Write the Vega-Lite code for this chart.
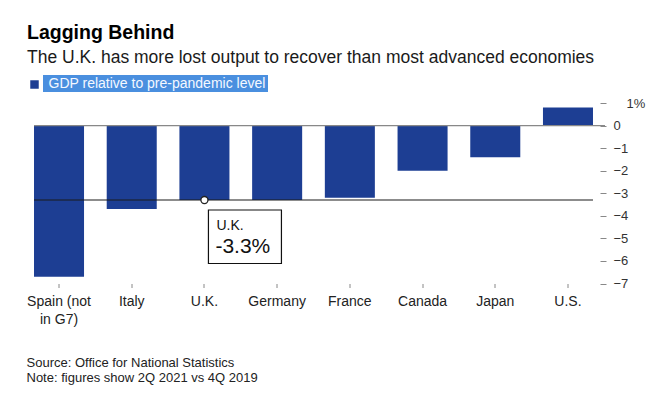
{
  "$schema": "https://vega.github.io/schema/vega-lite/v6.json",
  "width": 568,
  "height": 180.5,
  "autosize": {"type": "none"},
  "padding": {"left": 29.5, "top": 103, "right": 53.5, "bottom": 113.5},
  "background": "white",
  "config": {"view": {"stroke": null}, "font": "Liberation Sans", "axisY": {"labelOverlap": false}, "axisQuantitative": {"labelOverlap": false}},
  "title": {
    "text": "Lagging Behind",
    "subtitle": "The U.K. has more lost output to recover than most advanced economies",
    "anchor": "start",
    "frame": "group",
    "dx": -2.5,
    "offset": 8,
    "fontSize": 19.5,
    "fontWeight": "bold",
    "color": "#000000",
    "subtitleFontSize": 17.5,
    "subtitleColor": "#1a1a1a",
    "subtitlePadding": 5
  },
  "datasets": {
    "gdp": [
      {"country": "Spain (not in G7)", "value": -6.7},
      {"country": "Italy", "value": -3.7},
      {"country": "U.K.", "value": -3.3},
      {"country": "Germany", "value": -3.3},
      {"country": "France", "value": -3.2},
      {"country": "Canada", "value": -2.0},
      {"country": "Japan", "value": -1.4},
      {"country": "U.S.", "value": 0.8}
    ],
    "note": [
      {"country": "U.K.", "value": -3.3, "label": "-3.3%", "first": "Spain (not in G7)", "last": "U.S."}
    ],
    "zero": [
      {"value": 0, "first": "Spain (not in G7)", "last": "U.S."}
    ]
  },
  "encoding": {
    "x": {
      "field": "country",
      "type": "nominal",
      "sort": null,
      "scale": {
        "domain": ["Spain (not in G7)", "Italy", "U.K.", "Germany", "France", "Canada", "Japan", "U.S."],
        "paddingInner": 0.312,
        "paddingOuter": 0.062
      },
      "axis": {
        "labelAngle": 0,
        "domain": false,
        "tickSize": 4,
        "tickColor": "#888888",
        "labelFontSize": 14,
        "labelColor": "#222222",
        "labelPadding": 7,
        "labelLineHeight": 18,
        "labelExpr": "datum.value == 'Spain (not in G7)' ? ['Spain (not', 'in G7)'] : datum.label",
        "title": ["Source: Office for National Statistics", "Note: figures show 2Q 2021 vs 4Q 2019"],
        "titleX": -3.5,
        "titleY": 82.5,
        "titleAlign": "left",
        "titleAnchor": "start",
        "titleBaseline": "alphabetic",
        "titleFontSize": 13,
        "titleFontWeight": "normal",
        "titleColor": "#222222",
        "titleLineHeight": 15.5
      }
    },
    "y": {
      "field": "value",
      "type": "quantitative",
      "scale": {"domain": [-7, 1], "nice": false, "zero": false},
      "axis": {
        "orient": "right",
        "values": [1, 0, -1, -2, -3, -4, -5, -6, -7],
        "labelOverlap": false,
        "labelBound": false,
        "domain": false,
        "grid": false,
        "offset": 2.5,
        "tickSize": 6,
        "tickColor": "#888888",
        "labelFontSize": 13,
        "labelColor": "#333333",
        "labelPadding": {"condition": {"test": "datum.value == 1", "value": 20}, "value": 7},
        "labelExpr": "datum.value == 1 ? '1%' : datum.label",
        "title": null
      }
    }
  },
  "layer": [
    {
      "data": {"name": "gdp"},
      "mark": {"type": "bar"},
      "encoding": {
        "color": {
          "datum": "GDP",
          "type": "nominal",
          "scale": {"range": ["#1d3e93"]},
          "legend": {
            "orient": "none",
            "legendX": 0.5,
            "legendY": -23,
            "title": null,
            "padding": 0,
            "symbolType": "square",
            "symbolSize": 72,
            "symbolStrokeWidth": 0,
            "labelExpr": "''",
            "labelFontSize": 1
          }
        },
        "opacity": {
          "datum": "GDP relative to pre-pandemic level",
          "type": "nominal",
          "scale": {"range": [1]},
          "legend": {
            "orient": "none",
            "legendX": 13.5,
            "legendY": -28,
            "title": null,
            "padding": 1.5,
            "fillColor": "#4a8fdf",
            "symbolSize": 0,
            "symbolStrokeWidth": 0,
            "symbolOpacity": 0,
            "labelOffset": -10,
            "labelFontSize": 14,
            "labelColor": "#f4f8ff",
            "labelLimit": 400
          }
        }
      }
    },
    {
      "data": {"name": "zero"},
      "mark": {"type": "rule", "color": "#888888", "strokeWidth": 1.2, "x2Offset": 12},
      "encoding": {
        "x": {"field": "first", "type": "nominal", "bandPosition": 0},
        "x2": {"field": "last", "bandPosition": 1}
      }
    },
    {
      "data": {"name": "note"},
      "mark": {"type": "rule", "color": "#1a1a1a", "strokeWidth": 1.1},
      "encoding": {
        "x": {"field": "first", "type": "nominal", "bandPosition": 0},
        "x2": {"field": "last", "bandPosition": 1}
      }
    },
    {
      "data": {"name": "note"},
      "mark": {"type": "point", "filled": true, "fill": "white", "stroke": "#222222", "strokeWidth": 1.3, "size": 50, "opacity": 1}
    },
    {
      "data": {"name": "note"},
      "mark": {"type": "rect", "width": 73, "xOffset": 40.5, "yOffset": 10, "y2Offset": 63.5, "fill": "white", "stroke": "#111111", "strokeWidth": 1.2},
      "encoding": {
        "y2": {"field": "value"}
      }
    },
    {
      "data": {"name": "note"},
      "mark": {"type": "text", "align": "left", "baseline": "alphabetic", "dx": 12, "dy": 29.5, "fontSize": 14, "color": "#111111"},
      "encoding": {
        "text": {"field": "country"}
      }
    },
    {
      "data": {"name": "note"},
      "mark": {"type": "text", "align": "left", "baseline": "alphabetic", "dx": 11, "dy": 52.5, "fontSize": 21, "color": "#111111"},
      "encoding": {
        "text": {"field": "label"}
      }
    }
  ]
}
